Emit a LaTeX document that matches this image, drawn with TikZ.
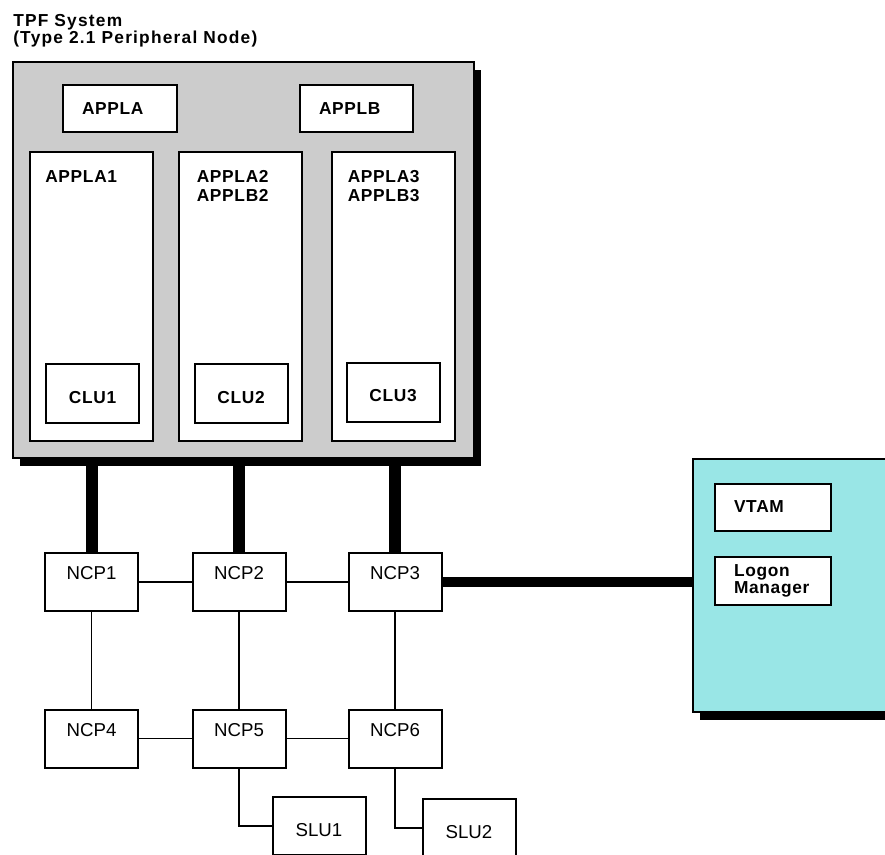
\documentclass[tikz,border=0pt]{standalone}
\usepackage{fontspec}
\setmainfont{Liberation Sans}
\newfontfamily\lblfont[LetterSpace=4]{Liberation Sans}
\newfontfamily\ttlfont[LetterSpace=7]{Liberation Sans}
\usepackage{tikz}
\usetikzlibrary{positioning,shadows,backgrounds}
\definecolor{sysgray}{RGB}{204,204,204}
\definecolor{hostcyan}{RGB}{153,230,230}

\begin{document}
\begin{tikzpicture}[
  x=0.75pt, y=-0.75pt,
  shadowed/.style={drop shadow={shadow xshift=5.25pt, shadow yshift=-6pt, fill=black, opacity=1}},
  box/.style={draw, line width=1.5pt, fill=white, inner sep=0pt},
  lbl/.style={font=\lblfont\bfseries\fontsize{13}{14.25}\selectfont},
  lbox/.style={box, lbl, align=left, inner xsep=14.25pt, minimum height=35.25pt},
  colbox/.style={box, minimum width=92.25pt, minimum height=216.75pt},
  clubox/.style={box, lbl, minimum width=69.75pt, minimum height=44.25pt, text height=14.5pt},
  ncp/.style={box, minimum width=69.75pt, minimum height=43.5pt,
              font=\fontsize{14}{16}\selectfont, text depth=13.5pt},
  slu/.style={ncp, text depth=0pt, text height=16pt},
  link/.style={line width=1.4pt},
  trunk/.style={line width=9pt},
  hostlink/.style={line width=7.5pt}
]
\useasboundingbox (0,0) rectangle (885,854);

% TPF system
\node[anchor=north west, inner sep=0pt, align=left,
      font=\ttlfont\bfseries\fontsize{13}{12.75}\selectfont] (ttl) at (13,14)
  {TPF System\\(Type 2.1 Peripheral Node)};
\node[shadowed, draw, line width=1.2pt, fill=sysgray,
      minimum width=345.75pt, minimum height=297pt] (sys) at (243.5,260) {};
\node[lbox, text width=57pt] (appla) at (120,108.5) {APPLA};
\node[lbox, text width=56.25pt] (applb) at (356.5,108.5) {APPLB};

\foreach \i/\x in {1/91.5, 2/240, 3/393}
  \node[colbox] (col\i) at (\x,296.5) {};
\node[lbl, anchor=north west, inner sep=0pt] (col1txt) at ([shift={(16,19)}]col1.north west) {APPLA1};
\node[lbl, anchor=north west, inner sep=0pt, align=left] (col2txt) at ([shift={(19,19)}]col2.north west) {APPLA2\\APPLB2};
\node[lbl, anchor=north west, inner sep=0pt, align=left] (col3txt) at ([shift={(17,19)}]col3.north west) {APPLA3\\APPLB3};

\node[clubox] (clu1) at (92.5,393.5) {CLU1};
\node[clubox] (clu2) at (241,393.5) {CLU2};
\node[clubox] (clu3) at (393,392) {CLU3};

% VTAM host
\node[shadowed, draw, line width=1.2pt, fill=hostcyan,
      minimum width=156pt, minimum height=189.75pt] (host) at (797,585.5) {};
\node[lbox, text width=58.5pt] (vtam) at (773,507) {VTAM};
\node[lbox, text width=58.5pt, minimum height=36pt,
      font=\lblfont\bfseries\fontsize{13}{12.75}\selectfont] (logon) at (773,581) {Logon\\Manager};

% network
\node[ncp] (ncp1) at (91.5,582) {NCP1};
\node[ncp] (ncp2) at (239,582) {NCP2};
\node[ncp] (ncp3) at (395,582) {NCP3};
\node[ncp] (ncp4) at (91.5,738.5) {NCP4};
\node[ncp] (ncp5) at (239,738.5) {NCP5};
\node[ncp] (ncp6) at (395,738.5) {NCP6};
\node[slu] (slu1) at (319,826) {SLU1};
\node[slu] (slu2) at (469,828) {SLU2};

\begin{scope}[on background layer]
  \foreach \i in {1,2,3}
    \draw[trunk] (ncp\i.north) -- (ncp\i.north |- sys.south);
  \draw[hostlink] (ncp3.east) -- (ncp3.east -| host.west);
  \draw[link] (ncp1) -- (ncp2) -- (ncp3);
  \draw[link] (ncp4) -- (ncp5) -- (ncp6);
  \foreach \i/\j in {1/4, 2/5, 3/6}
    \draw[link] (ncp\i) -- (ncp\j);
  \draw[link] (ncp5.south) |- (slu1.west);
  \draw[link] (ncp6.south) |- (slu2.west);
\end{scope}
\end{tikzpicture}
\end{document}
